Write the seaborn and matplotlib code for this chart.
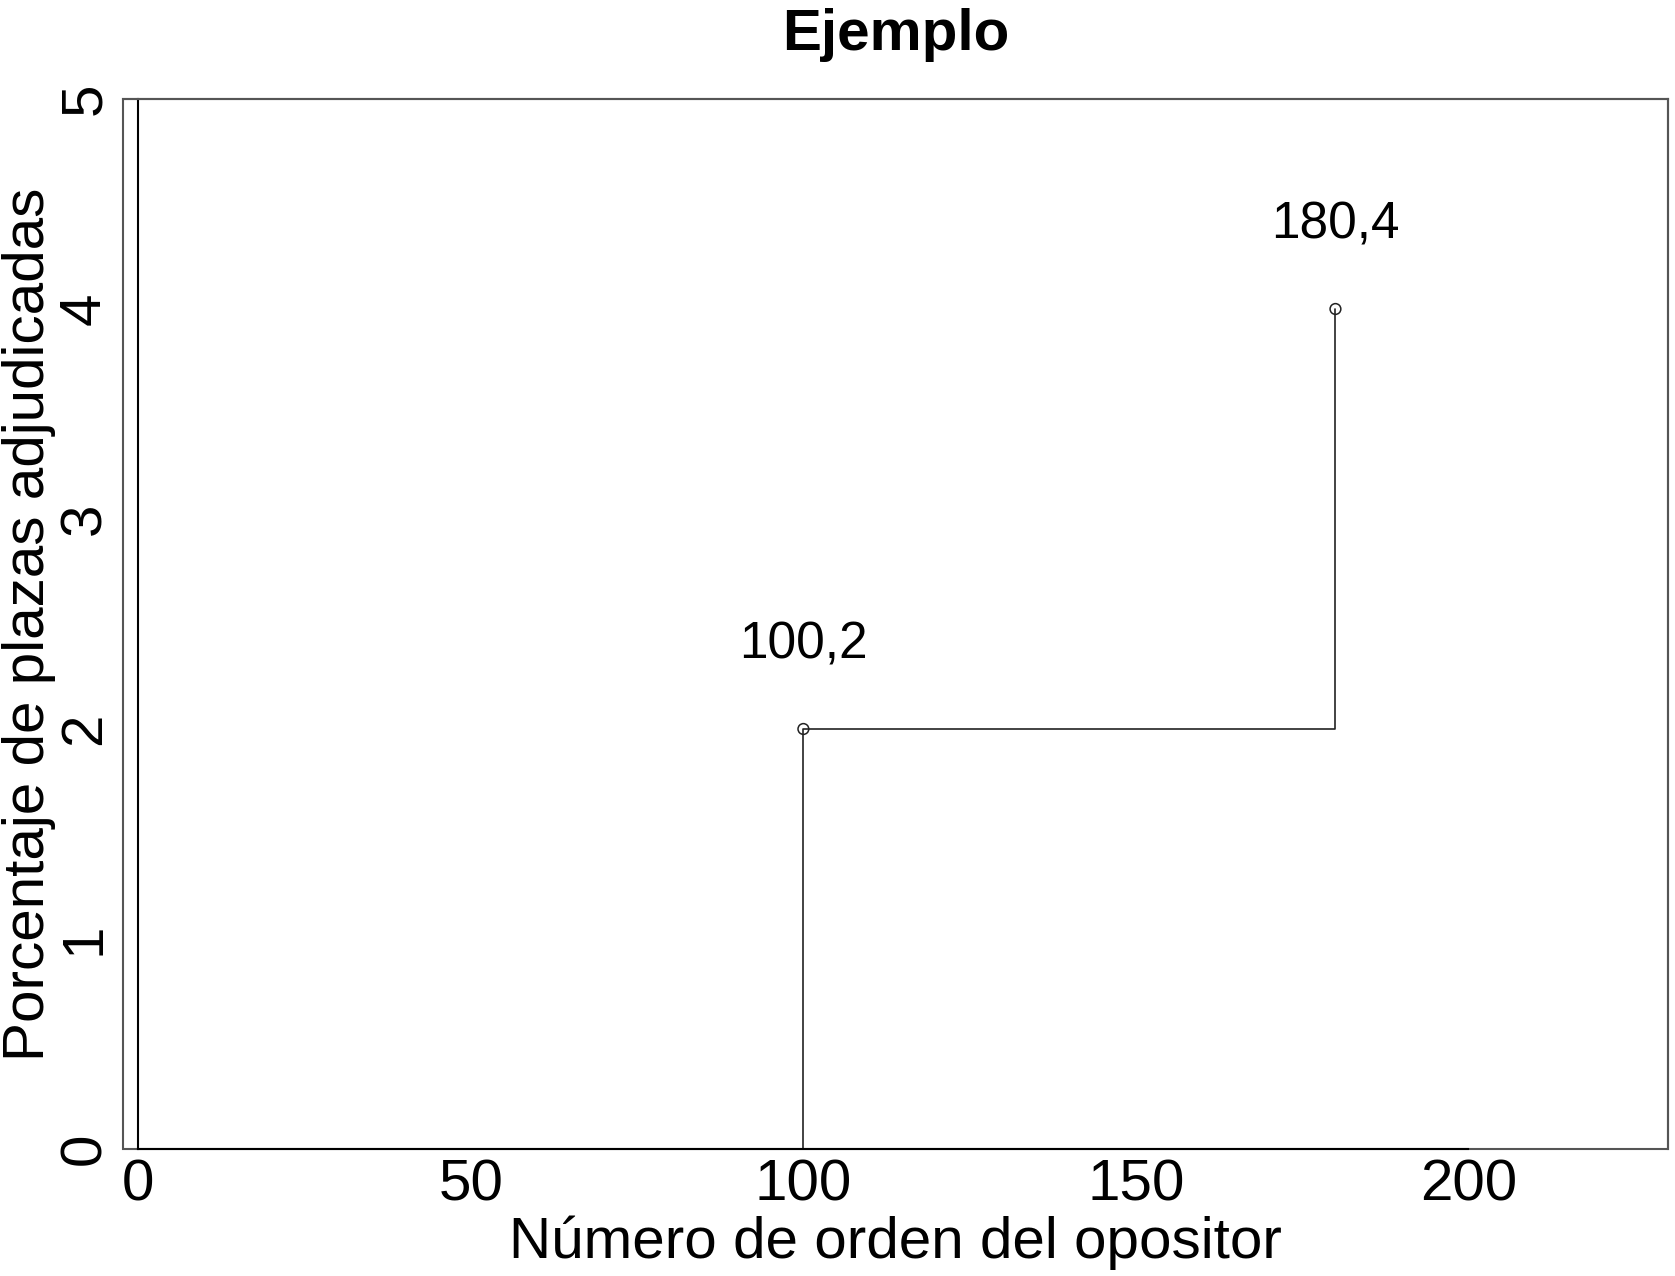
import numpy as np
import pandas as pd
import seaborn as sns
import matplotlib
matplotlib.use("Agg")
import matplotlib.pyplot as plt
from matplotlib.patches import Rectangle

# data
opositor = [100, 180]
plazas = [2, 4]
x_ticks = [0, 50, 100, 150, 200]
y_ticks = [0, 1, 2, 3, 4, 5]

sns.set_style("white")
plt.rcParams['font.family'] = ['Liberation Sans', 'DejaVu Sans']
plt.rcParams['text.color'] = 'black'
plt.rcParams['axes.labelcolor'] = 'black'
plt.rcParams['xtick.color'] = 'black'
plt.rcParams['ytick.color'] = 'black'

# step path: from (first, 0) up, then across and up
step_df = pd.DataFrame({"x": [opositor[0]] + opositor, "y": [0] + plazas})
pts = pd.DataFrame({"x": opositor, "y": plazas})

fig = plt.figure(figsize=(16.75, 12.76), dpi=100)
ax = fig.add_axes([123 / 1675, 1 - 1149 / 1276, (1668 - 123) / 1675, (1149 - 99) / 1276])

sns.lineplot(data=step_df, x="x", y="y", sort=False, estimator=None,
             drawstyle="steps-post", color="#222222", linewidth=1.2, ax=ax)
sns.scatterplot(data=pts, x="x", y="y", s=60, facecolor="none",
                edgecolor="#222222", linewidth=1.1, ax=ax, zorder=3)

for xv, yv in zip(opositor, plazas):
    ax.text(xv, yv + 0.4, f"{xv},{yv}", ha="center", va="center", fontsize=37)

# R-like axes: black axis lines over ticks range, gray box around
ax.spines['left'].set_position(('data', 0))
ax.spines['left'].set_bounds(0, 5)
ax.spines['bottom'].set_bounds(0, 200)
for s in ['left', 'bottom']:
    ax.spines[s].set_color("black")
    ax.spines[s].set_linewidth(1.5)
for s in ['top', 'right']:
    ax.spines[s].set_color("#555555")
    ax.spines[s].set_linewidth(1.5)
ax.add_patch(Rectangle((0, 0), 1, 1, transform=ax.transAxes, fill=False,
                       edgecolor="#555555", linewidth=1.5, clip_on=False, zorder=0))

ax.set_xlim(-2.3, 230)
ax.set_ylim(0, 5)
ax.set_xticks(x_ticks)
ax.set_yticks(y_ticks)
ax.set_xticklabels([str(v) for v in x_ticks])
ax.set_yticklabels([str(v) for v in y_ticks], va="center")

ax.tick_params(axis="both", direction="out", length=11, width=1.0,
               color="#333333", labelsize=42)
ax.tick_params(axis="x", pad=-4)
ax.tick_params(axis="y", pad=8, labelrotation=90)

ax.set_xlabel("Número de orden del opositor", fontsize=42, labelpad=2)
ax.set_ylabel("Porcentaje de plazas adjudicadas", fontsize=42, labelpad=1.5)
ax.set_title("Ejemplo", fontsize=42, fontweight="bold", pad=35)

fig.savefig("out.png", dpi=100, facecolor="white")
